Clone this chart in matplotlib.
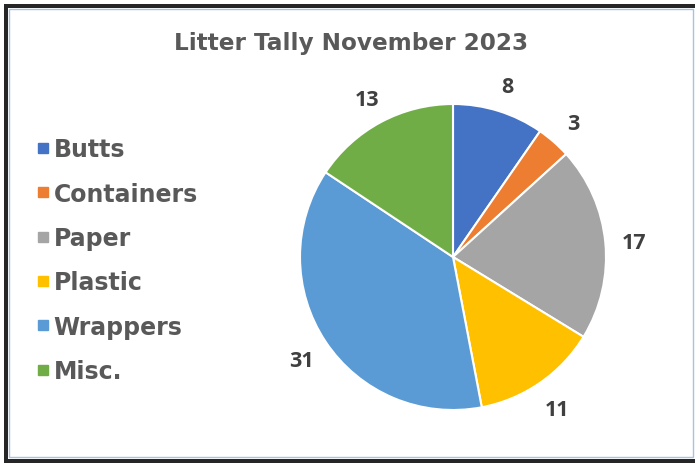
import matplotlib
matplotlib.use("Agg")
import matplotlib.pyplot as plt
from matplotlib.patches import Rectangle
from matplotlib.lines import Line2D

categories = ["Butts", "Containers", "Paper", "Plastic", "Wrappers", "Misc."]
values = [8, 3, 17, 11, 31, 13]
colors = ["#4472C4", "#ED7D31", "#A5A5A5", "#FFC000", "#5B9BD5", "#70AD47"]
title = "Litter Tally November 2023"

W, H = 695, 464
fig = plt.figure(figsize=(W / 100, H / 100), dpi=100)
fig.patch.set_facecolor("white")

def fx(x):
    return x / W

def fy(y):
    return 1 - y / H

# frame
fig.add_artist(Rectangle((fx(4), fy(464)), fx(700) - fx(4), fy(5) - fy(464),
                         transform=fig.transFigure, facecolor="#262626", edgecolor="none", zorder=0))
fig.add_artist(Rectangle((fx(8), fy(460)), fx(700) - fx(8), fy(9) - fy(460),
                         transform=fig.transFigure, facecolor="white", edgecolor="none", zorder=0))
fig.add_artist(Rectangle((fx(9), fy(458)), fx(693) - fx(9), fy(10) - fy(458),
                         transform=fig.transFigure, facecolor="none", edgecolor="#a9c1e3", lw=1.0, zorder=1))

# pie axes: center (453, 258) px, radius 153 px
r = 153
cx, cy = 453, 258
half = r * 1.25
ax = fig.add_axes([fx(cx - half), fy(cy + half), (2 * half) / W, (2 * half) / H])
total = sum(values)
wedges, texts, autotexts = ax.pie(
    values, colors=colors, startangle=90, counterclock=False,
    wedgeprops=dict(edgecolor="white", linewidth=1.5),
    autopct=lambda p: f"{round(p * total / 100)}", pctdistance=1.19,
    textprops=dict(fontsize=15.5, fontweight="bold", color="#404040",
                   family=["Open Sans", "DejaVu Sans"]),
)
for t in autotexts:
    px, py = t.get_position()
    t.set_position((px, py - 0.02))
ax.set_xlim(-1.25, 1.25)
ax.set_ylim(-1.25, 1.25)
ax.set_aspect("equal")
ax.axis("off")

fig.text(fx(351), fy(50), title, ha="center", va="baseline", fontsize=16.7,
         fontweight="bold", color="#595959", family=["DejaVu Sans"])

handles = [Line2D([], [], marker="s", linestyle="none", markersize=7.4,
                  markerfacecolor=c, markeredgecolor=c) for c in colors]
leg = fig.legend(handles, categories, loc="upper left", bbox_to_anchor=(fx(28), fy(129)),
                 borderaxespad=0, frameon=False, handlelength=0.44, handletextpad=0.25,
                 labelspacing=0.86,
                 prop=dict(size=17, weight="bold", family=["DejaVu Sans"]))
for t in leg.get_texts():
    t.set_color("#595959")

fig.savefig("out.png", dpi=100, facecolor="white")
